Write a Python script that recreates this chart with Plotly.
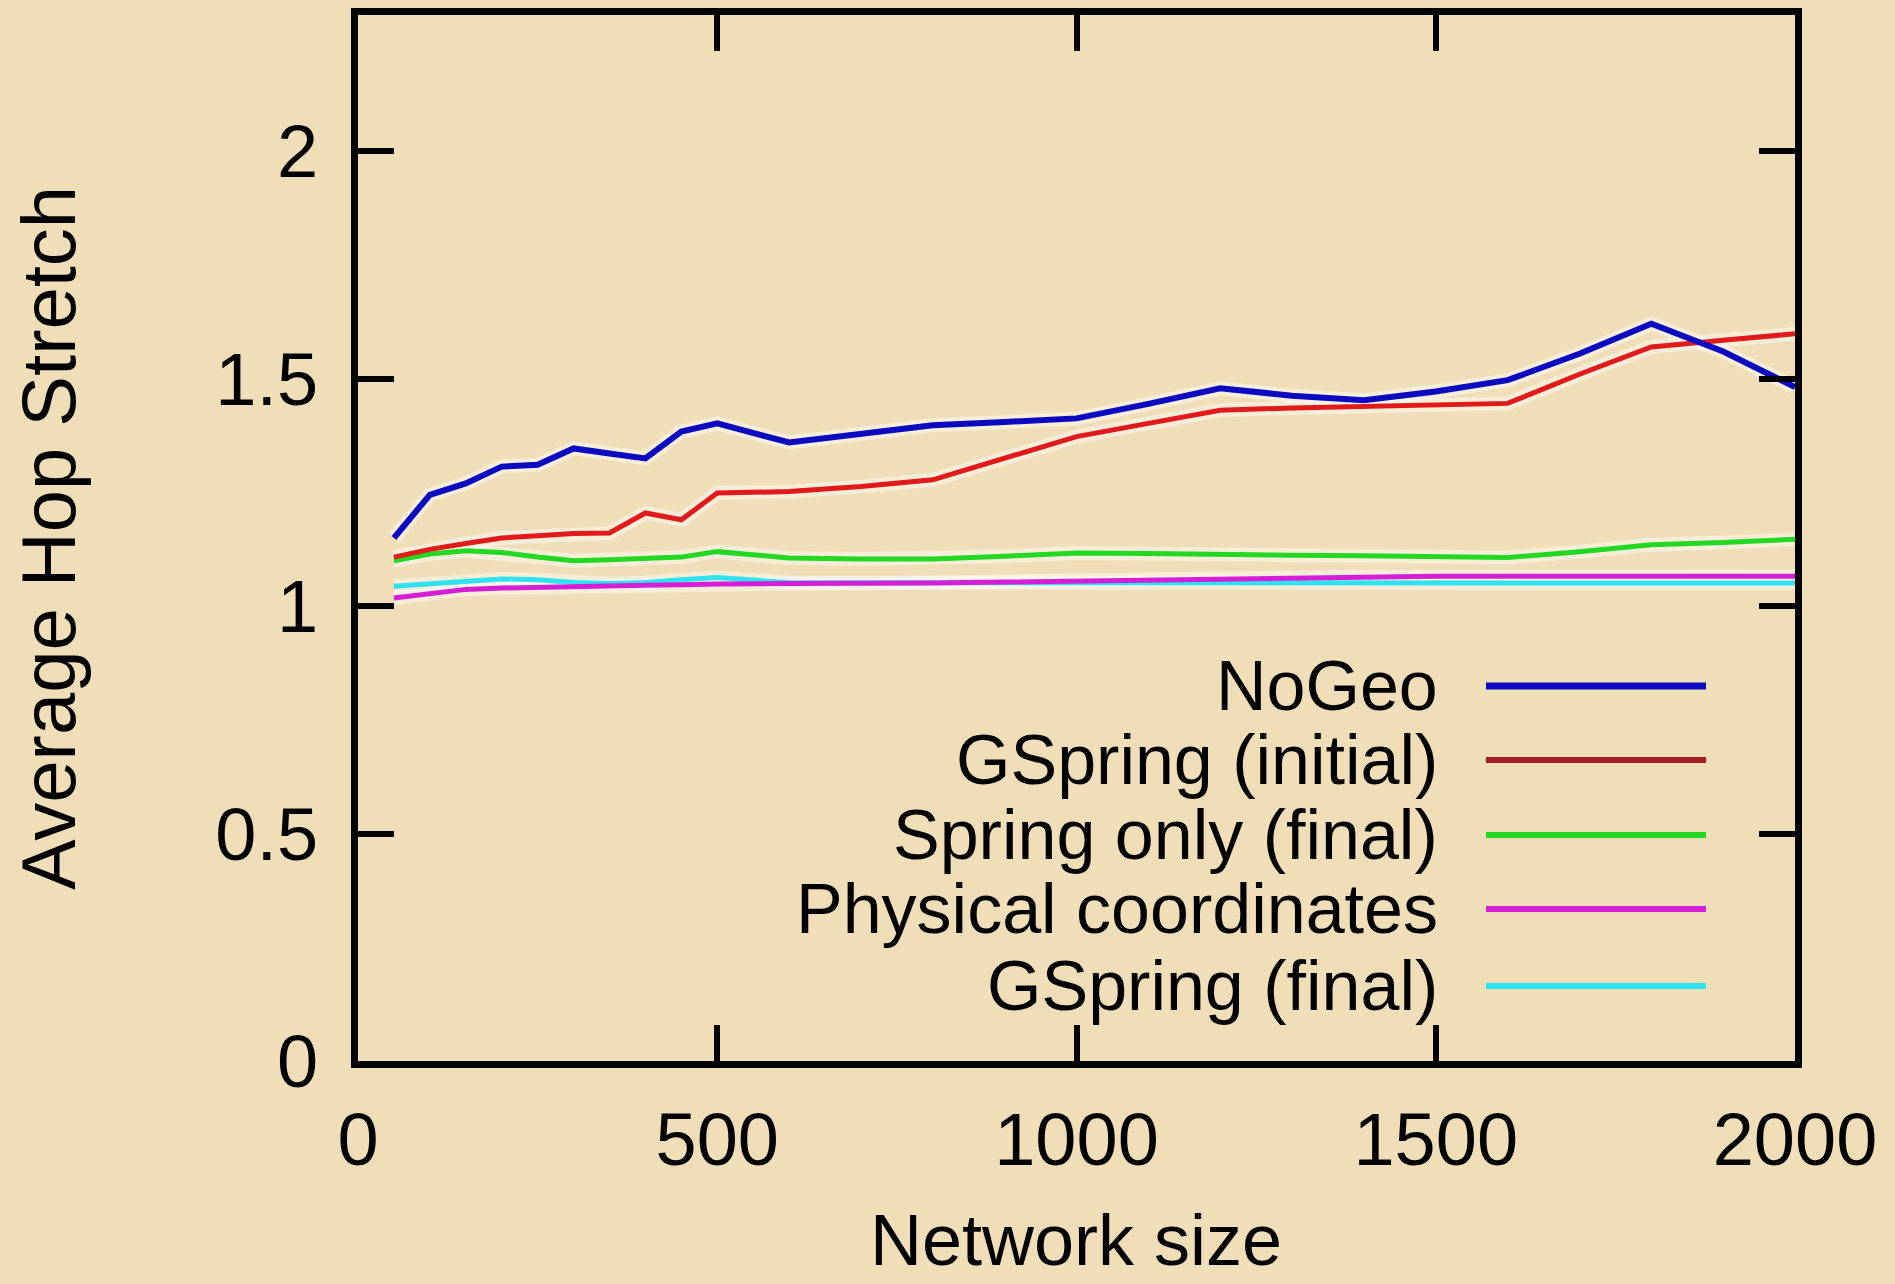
import plotly.graph_objects as go

# ---------------- data ----------------
network_size = [50, 100, 150, 200, 250, 300, 350, 400, 450, 500, 600, 700, 800, 900,
                1000, 1100, 1200, 1300, 1400, 1500, 1600, 1700, 1800, 1900, 2000]

nogeo = [1.150, 1.245, 1.270, 1.307, 1.311, 1.347, 1.336, 1.325, 1.384, 1.402, 1.360,
         1.378, 1.398, 1.405, 1.413, 1.445, 1.479, 1.463, 1.453, 1.472, 1.497, 1.555,
         1.621, 1.560, 1.482]

gspring_initial = [1.108, 1.125, 1.138, 1.150, 1.155, 1.160, 1.161, 1.205, 1.190, 1.249,
                   1.252, 1.263, 1.278, 1.325, 1.373, 1.402, 1.431, 1.436, 1.440, 1.443,
                   1.446, 1.510, 1.570, 1.585, 1.599]

spring_only_final = [1.100, 1.115, 1.122, 1.118, 1.108, 1.100, 1.102, 1.106, 1.108, 1.120,
                     1.106, 1.104, 1.104, 1.110, 1.117, 1.116, 1.113, 1.112, 1.111, 1.109,
                     1.107, 1.120, 1.135, 1.140, 1.147]

physical_coords = [1.018, 1.028, 1.037, 1.040, 1.042, 1.043, 1.044, 1.046, 1.047, 1.049,
                   1.050, 1.050, 1.051, 1.053, 1.055, 1.058, 1.061, 1.063, 1.065, 1.066,
                   1.066, 1.066, 1.066, 1.066, 1.066]

gspring_final = [1.044, 1.050, 1.056, 1.060, 1.058, 1.052, 1.050, 1.052, 1.058, 1.063,
                 1.052, 1.052, 1.051, 1.051, 1.052, 1.052, 1.052, 1.052, 1.052, 1.051,
                 1.051, 1.051, 1.051, 1.051, 1.051]

series_names = ["NoGeo", "GSpring (initial)", "Spring only (final)",
                "Physical coordinates", "GSpring (final)"]
series_values = [nogeo, gspring_initial, spring_only_final, physical_coords, gspring_final]

x_ticks = [0, 500, 1000, 1500, 2000]
y_ticks = [0, 0.5, 1, 1.5, 2]
y_tick_labels = ["0", "0.5", "1", "1.5", "2"]

# ---------------- styles ----------------
line_colors = ["#0a0ac0", "#e21a1a", "#22d822", "#d61ed6", "#2fe2f0"]
legend_colors = ["#0a0ac0", "#a51f2a", "#22d822", "#d61ed6", "#2fe2f0"]
line_widths = [6, 5, 5, 5, 5]
BG = "#f0deb8"
FONT = "Liberation Sans, Arial, Helvetica, sans-serif"

W, H = 1895, 1284
L, R, T, B = 358, 1795, 15, 1061   # plot area in pixels


def px_x(p):
    return (p - L) / (R - L)


def px_y(p):
    return (B - p) / (B - T)


fig = go.Figure()

# pale halo beneath lines (like the scanned original)
for vals in series_values:
    fig.add_trace(go.Scatter(x=network_size, y=vals, mode="lines",
                             line=dict(color="rgba(255,255,255,0.45)", width=14),
                             showlegend=False, hoverinfo="skip"))

order = [4, 3, 2, 1, 0]
for i in order:
    fig.add_trace(go.Scatter(x=network_size, y=series_values[i], mode="lines",
                             name=series_names[i],
                             line=dict(color=line_colors[i], width=line_widths[i]),
                             showlegend=False))

# gnuplot-style legend: text on the left, sample line on the right
legend_rows_px = [686, 760, 835, 909, 986]
text_right_px = 1440
sample_x0, sample_x1 = 1486, 1706
annotations = []
shapes = []
for name, col, yp, lw in zip(series_names, legend_colors, legend_rows_px, line_widths):
    annotations.append(dict(x=px_x(text_right_px), y=px_y(yp), xref="paper", yref="paper",
                            text=name, showarrow=False, xanchor="right", yanchor="middle",
                            font=dict(family=FONT, size=70, color="black")))
    shapes.append(dict(type="line", xref="paper", yref="paper",
                       x0=px_x(sample_x0), x1=px_x(sample_x1),
                       y0=px_y(yp), y1=px_y(yp),
                       line=dict(color=col, width=lw + 1)))

# axis titles
annotations.append(dict(x=px_x(1076), y=px_y(1240), xref="paper", yref="paper",
                        text="Network size", showarrow=False, xanchor="center",
                        yanchor="middle", font=dict(family=FONT, size=72, color="black")))
annotations.append(dict(x=px_x(48), y=px_y(538), xref="paper", yref="paper",
                        text="Average Hop Stretch", showarrow=False, textangle=-90,
                        xanchor="center", yanchor="middle",
                        font=dict(family=FONT, size=76, color="black")))

fig.update_layout(
    width=W, height=H,
    margin=dict(l=L, r=W - R, t=T, b=H - B, autoexpand=False),
    paper_bgcolor=BG, plot_bgcolor=BG,
    font=dict(family=FONT, size=74, color="black"),
    showlegend=False,
    annotations=annotations,
    shapes=shapes,
)

axis_common = dict(showline=True, linecolor="black", linewidth=7, mirror="ticks",
                   ticks="inside", ticklen=36, tickwidth=6, tickcolor="black",
                   showgrid=False, zeroline=False,
                   tickfont=dict(family=FONT, size=74, color="black"))

fig.update_xaxes(range=[0, 2000], tickvals=x_ticks, ticktext=[str(v) for v in x_ticks],
                 ticklabelstandoff=8, **axis_common)
fig.update_yaxes(range=[0, 2.3], tickvals=y_ticks, ticktext=y_tick_labels,
                 ticklabelstandoff=18, **axis_common)

fig.write_html("out.html")
